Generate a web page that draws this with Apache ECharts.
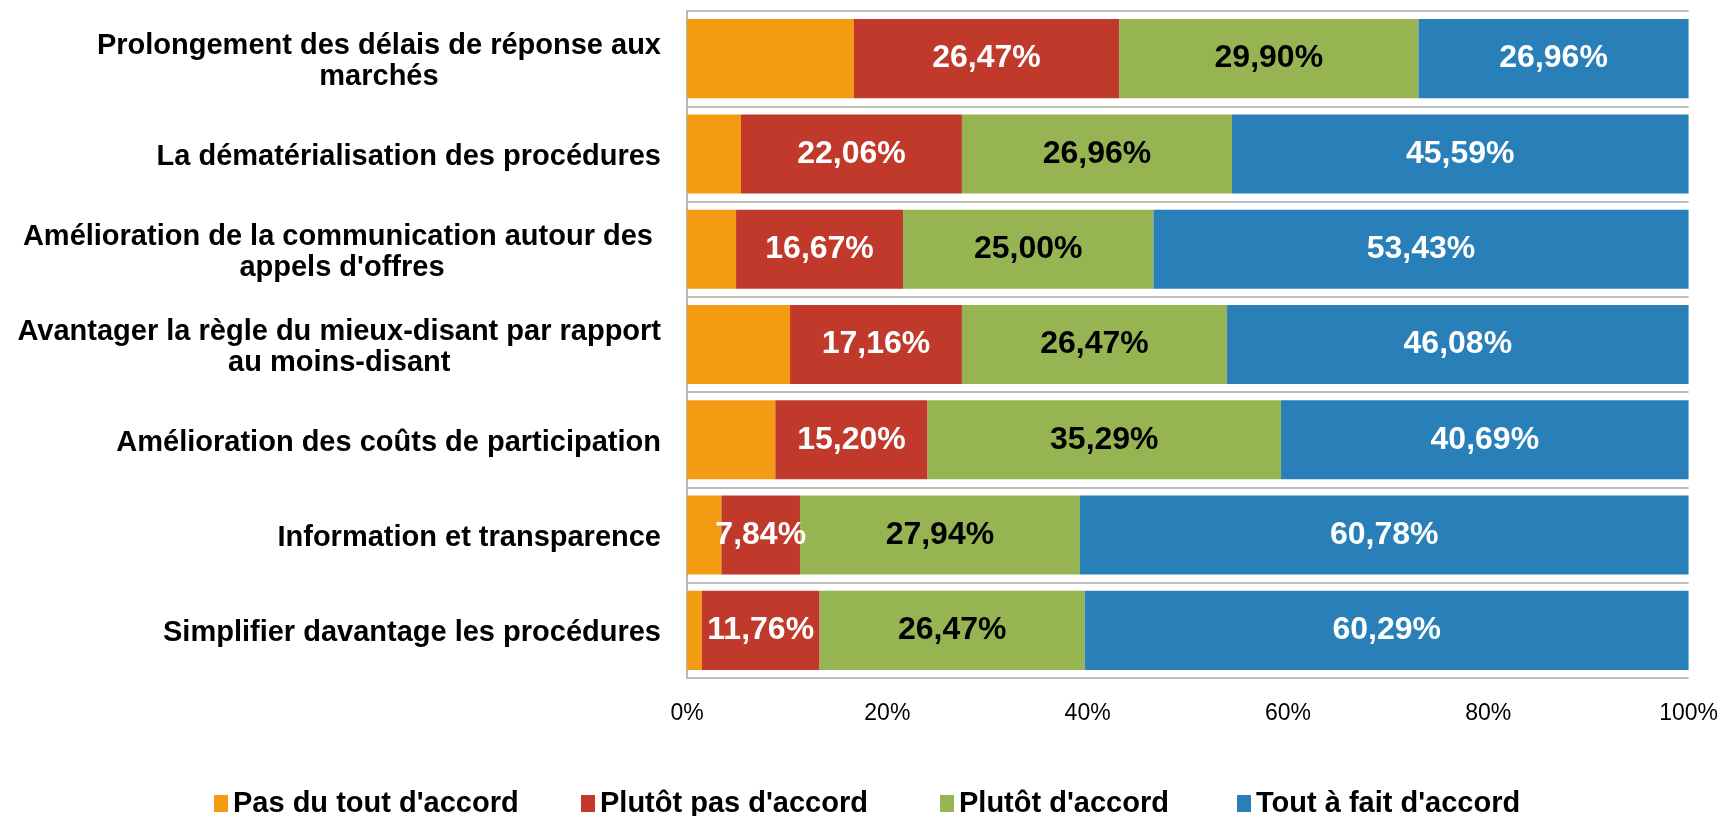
<!DOCTYPE html>
<html><head><meta charset="utf-8">
<script src="https://cdn.jsdelivr.net/npm/echarts@6/dist/echarts.min.js"></script>
<style>html,body{margin:0;padding:0;background:#fff}#c{width:1721px;height:816px}</style>
</head><body><div id="c"></div>
<script>
const categories = [
  "Prolongement des délais de réponse aux\nmarchés",
  "La dématérialisation des procédures",
  "Amélioration de la communication autour des \nappels d'offres",
  "Avantager la règle du mieux-disant par rapport\nau moins-disant",
  "Amélioration des coûts de participation",
  "Information et transparence",
  "Simplifier davantage les procédures"
];
const seriesNames = ["Pas du tout d'accord", "Plutôt pas d'accord", "Plutôt d'accord", "Tout à fait d'accord"];
const pasDuTout   = [16.67, 5.39, 4.90, 10.29, 8.82, 3.44, 1.48];
const plutotPas   = [26.47, 22.06, 16.67, 17.16, 15.20, 7.84, 11.76];
const plutot      = [29.90, 26.96, 25.00, 26.47, 35.29, 27.94, 26.47];
const toutAFait   = [26.96, 45.59, 53.43, 46.08, 40.69, 60.78, 60.29];
const xTicks = [0, 20, 40, 60, 80, 100];

const colors = ['#F39C12', '#C0392B', '#96B552', '#2980B9'];
const labelColors = [null, '#ffffff', '#000000', '#ffffff'];
const datasets = [pasDuTout, plutotPas, plutot, toutAFait];
const legendLeft = [214, 581, 940, 1237];
const FONT = '"Liberation Sans", Arial, sans-serif';

const chart = echarts.init(document.getElementById('c'));
chart.setOption({
  animation: false,
  color: colors,
  grid: { left: 687, right: 32, top: 11, bottom: 138 },
  legend: seriesNames.map((n, i) => ({
    top: 789, left: legendLeft[i], padding: 0,
    itemWidth: 14, itemHeight: 17, itemGap: 0,
    icon: 'rect',
    textStyle: { fontFamily: FONT, fontWeight: 'bold', fontSize: 29, color: '#000' },
    data: [n]
  })),
  xAxis: {
    type: 'value', min: 0, max: 100, interval: 20,
    axisLine: { show: false }, axisTick: { show: false }, splitLine: { show: false },
    axisLabel: { formatter: v => xTicks.includes(v) ? v + '%' : '', fontFamily: FONT, fontSize: 23, color: '#000', margin: 24 }
  },
  yAxis: {
    type: 'category', inverse: true, data: categories,
    axisLine: { show: true, lineStyle: { color: '#B8B8B8', width: 2 } },
    axisTick: { show: false },
    splitLine: { show: true, lineStyle: { color: '#BDBDBD', width: 2 } },
    axisLabel: {
      margin: 26, align: 'right', padding: [6, 0, 0, 0],
      formatter: v => v.split('\n').map(s => '{c|' + s + '}').join('\n'),
      rich: { c: { fontFamily: FONT, fontWeight: 'bold', fontSize: 29, lineHeight: 31, color: '#000', align: 'center' } }
    }
  },
  series: datasets.map((d, i) => ({
    name: seriesNames[i], type: 'bar', stack: 'total', data: d,
    barCategoryGap: '17%',
    label: {
      show: i > 0, position: 'inside',
      formatter: p => p.value.toFixed(2).replace('.', ',') + '%',
      fontFamily: FONT, fontWeight: 'bold', fontSize: 32, color: labelColors[i] || '#000'
    }
  }))
});
</script></body></html>
